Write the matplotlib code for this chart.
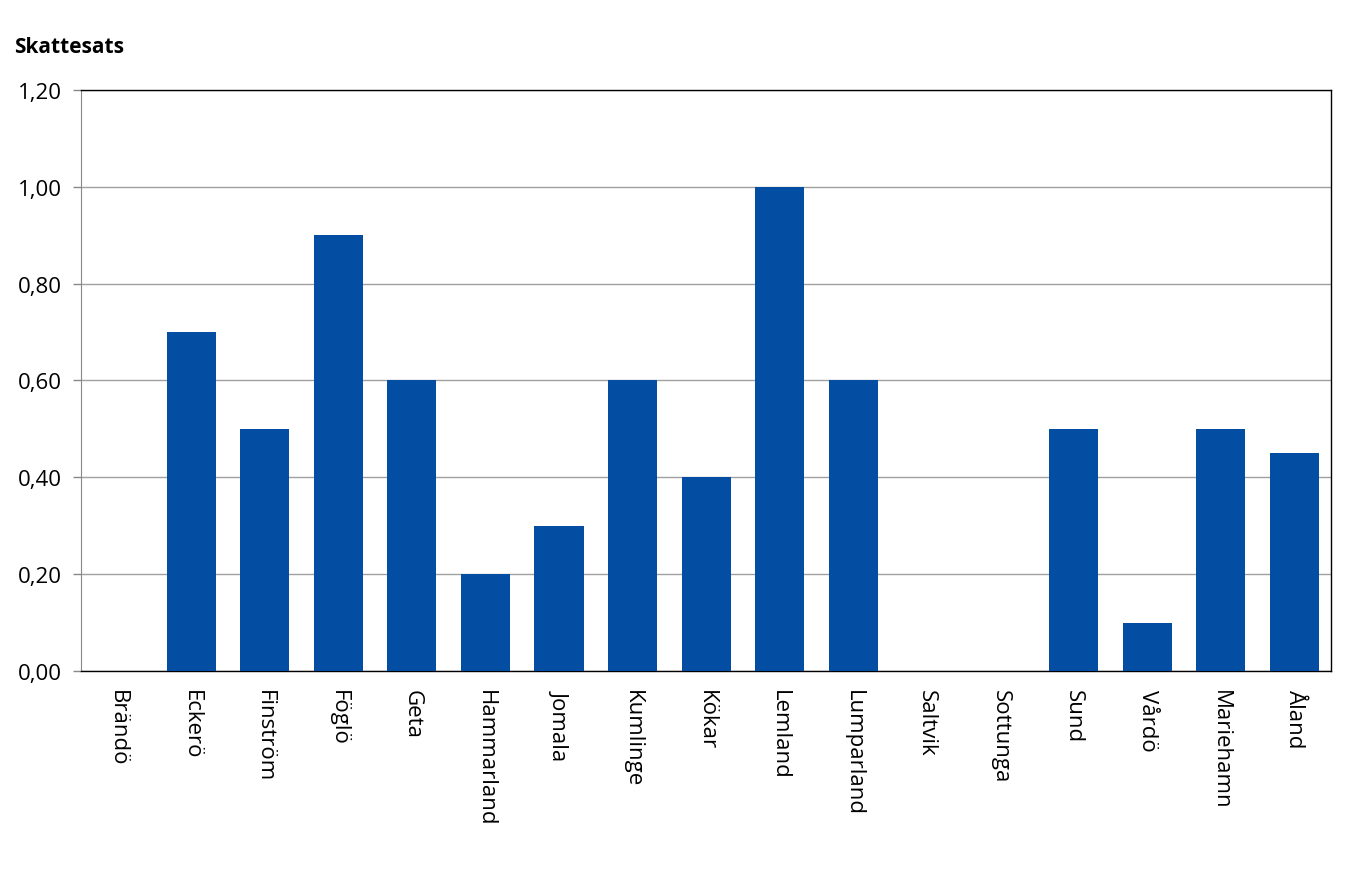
import matplotlib.pyplot as plt
import numpy as np

kommuner = ['Brändö', 'Eckerö', 'Finström', 'Föglö', 'Geta', 'Hammarland', 'Jomala',
            'Kumlinge', 'Kökar', 'Lemland', 'Lumparland', 'Saltvik', 'Sottunga',
            'Sund', 'Vårdö', 'Mariehamn', 'Åland']
skattesats = [0, 0.70, 0.50, 0.90, 0.60, 0.20, 0.30, 0.60, 0.40, 1.00, 0.60,
              0, 0, 0.50, 0.10, 0.50, 0.45]
yticks = [0, 0.2, 0.4, 0.6, 0.8, 1.0, 1.2]

plt.rcParams['font.family'] = ['Open Sans', 'DejaVu Sans']

fig = plt.figure(figsize=(13.57, 8.87), dpi=100)
ax = fig.add_axes([0.0597, 0.2424, 0.9212, 0.655])

x = np.arange(len(kommuner))
ax.bar(x, skattesats, width=0.667, color='#034EA2', zorder=3)
ax.set_xlim(-0.5, len(kommuner) - 0.5)
ax.set_ylim(0, 1.2)
ax.set_yticks(yticks)
ax.set_yticklabels([f'{v:.2f}'.replace('.', ',') for v in yticks], fontsize=16)
ax.yaxis.grid(True, color='#a0a0a0', linewidth=1, zorder=0)
ax.set_xticks(x)
ax.set_xticklabels(kommuner, rotation=270, fontsize=16, va='top', ha='center')
ax.tick_params(axis='x', length=0, pad=13)
ax.tick_params(axis='y', length=6, color='#888888', width=1, pad=8)

for side in ['top', 'right', 'bottom']:
    ax.spines[side].set_color('black')
    ax.spines[side].set_linewidth(1)
ax.spines['left'].set_color('#888888')

fig.text(0.0103, 0.947, 'Skattesats', fontsize=15, fontweight='bold', va='center')

fig.savefig('out.png', dpi=100)
